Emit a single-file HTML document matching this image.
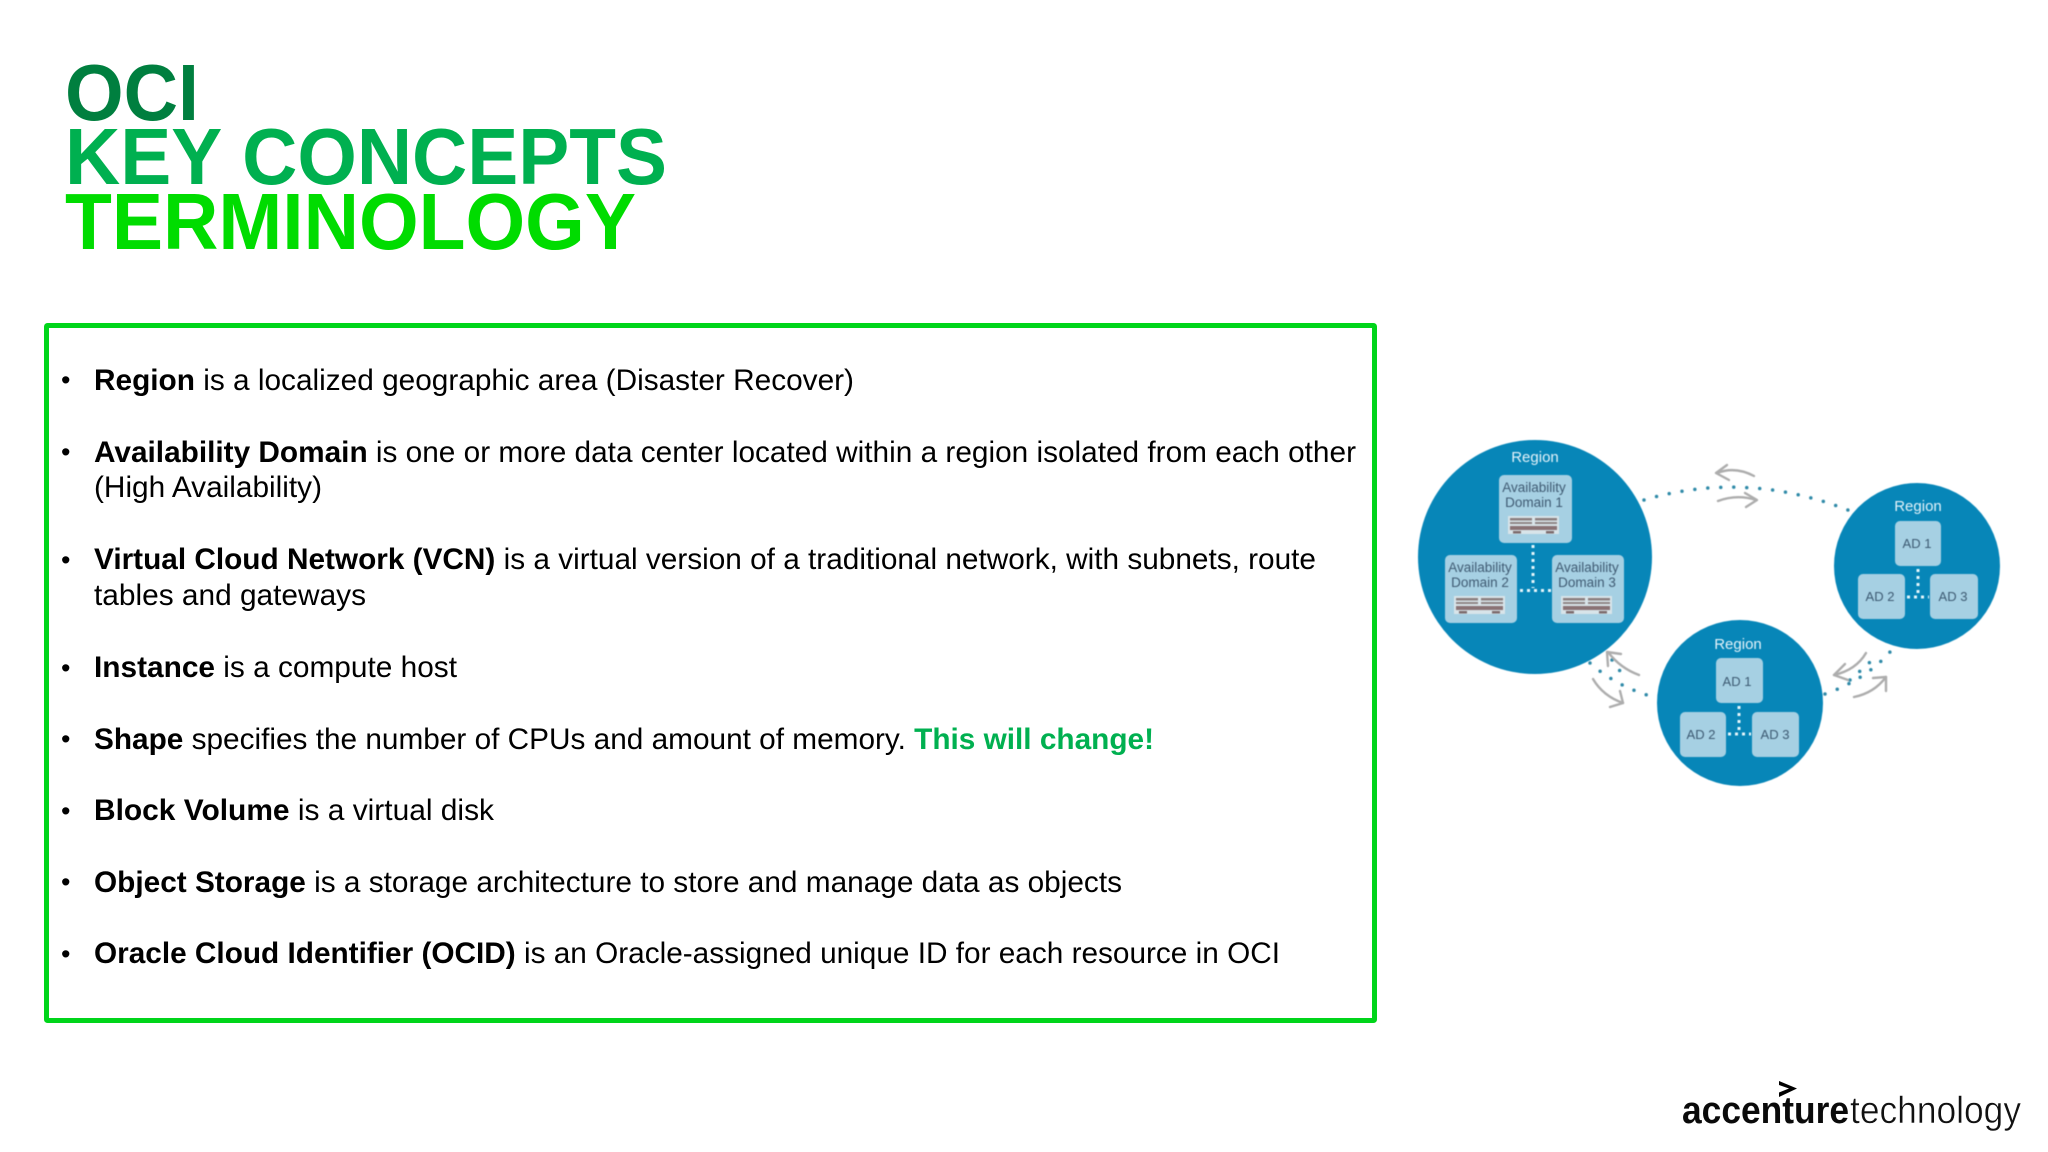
<!DOCTYPE html>
<html><head><meta charset="utf-8"><style>
html,body{margin:0;padding:0;background:#fff;width:2048px;height:1152px;overflow:hidden}
svg{display:block}
text{font-family:"Liberation Sans",sans-serif}
.b{font-weight:bold}
.t{font-size:30px;fill:#000}
.bu{font-size:27px;fill:#000}
.ad{font-size:13.5px;fill:#3f5a72;text-anchor:middle}
.r{font-size:15px;fill:#e4f3fa;text-anchor:middle}
.s{font-size:13px;fill:#3d5a72;text-anchor:middle}
.dg{filter:blur(.45px)}
</style></head><body>
<svg width="2048" height="1152" viewBox="0 0 2048 1152" xmlns="http://www.w3.org/2000/svg">
<defs>
<g id="srv">
<rect x="0" y="0" width="51" height="18" fill="#d8e4e9"/>
<rect x="2" y="2" width="22" height="2.5" fill="#8b7f80"/><rect x="27" y="2" width="22" height="2.5" fill="#8b7f80"/>
<rect x="2" y="6" width="22" height="2" fill="#8f8586"/><rect x="27" y="6" width="22" height="2" fill="#8f8586"/>
<rect x="2" y="10" width="47" height="4" fill="#8a7375"/>
<rect x="5" y="15" width="8" height="2.5" fill="#7c6a6c"/><rect x="38" y="15" width="8" height="2.5" fill="#7c6a6c"/>
</g>
</defs>
<rect width="2048" height="1152" fill="#fff"/>

<g font-weight="bold" font-size="80">
<text x="65" y="120" fill="#007f3f" textLength="134" lengthAdjust="spacingAndGlyphs">OCI</text>
<text x="65" y="184" fill="#00b050" textLength="602" lengthAdjust="spacingAndGlyphs">KEY CONCEPTS</text>
<text x="65" y="249" fill="#00dc00" textLength="571" lengthAdjust="spacingAndGlyphs">TERMINOLOGY</text>
</g>

<rect x="46.5" y="325.5" width="1328" height="695" fill="#fff" stroke="#00d51a" stroke-width="5" rx="1"/>

<g>
<text class="bu" x="61" y="389">•</text>
<text class="bu" x="61" y="461">•</text>
<text class="bu" x="61" y="569">•</text>
<text class="bu" x="61" y="677">•</text>
<text class="bu" x="61" y="748">•</text>
<text class="bu" x="61" y="820">•</text>
<text class="bu" x="61" y="891">•</text>
<text class="bu" x="61" y="963">•</text>
</g>
<text class="t" x="94" y="390" textLength="760" lengthAdjust="spacingAndGlyphs"><tspan class="b">Region</tspan> is a localized geographic area (Disaster Recover)</text>
<text class="t" x="94" y="462" textLength="1262" lengthAdjust="spacingAndGlyphs"><tspan class="b">Availability Domain</tspan> is one or more data center located within a region isolated from each other</text>
<text class="t" x="94" y="497" textLength="228" lengthAdjust="spacingAndGlyphs">(High Availability)</text>
<text class="t" x="94" y="569" textLength="1222" lengthAdjust="spacingAndGlyphs"><tspan class="b">Virtual Cloud Network (VCN)</tspan> is a virtual version of a traditional network, with subnets, route</text>
<text class="t" x="94" y="605" textLength="272" lengthAdjust="spacingAndGlyphs">tables and gateways</text>
<text class="t" x="94" y="677" textLength="363" lengthAdjust="spacingAndGlyphs"><tspan class="b">Instance</tspan> is a compute host</text>
<text class="t" x="94" y="749" textLength="1060" lengthAdjust="spacingAndGlyphs"><tspan class="b">Shape</tspan> specifies the number of CPUs and amount of memory. <tspan class="b" fill="#00b050">This will change!</tspan></text>
<text class="t" x="94" y="820" textLength="400" lengthAdjust="spacingAndGlyphs"><tspan class="b">Block Volume</tspan> is a virtual disk</text>
<text class="t" x="94" y="892" textLength="1028" lengthAdjust="spacingAndGlyphs"><tspan class="b">Object Storage</tspan> is a storage architecture to store and manage data as objects</text>
<text class="t" x="94" y="963" textLength="1186" lengthAdjust="spacingAndGlyphs"><tspan class="b">Oracle Cloud Identifier (OCID)</tspan> is an Oracle-assigned unique ID for each resource in OCI</text>

<g class="dg">
<!-- connectors between regions -->
<g fill="none" stroke="#2f8aa8" stroke-width="3.5" stroke-linecap="round" stroke-dasharray="0 13">
<path d="M1644 500 Q1745 470 1848 510"/>
<path d="M1590 663 Q1615 685 1647 695"/>
<path d="M1612 660 L1625 678"/>
<path d="M1825 694 Q1865 680 1890 652"/>
<path d="M1850 680 L1878 655"/>
</g>
<g fill="none" stroke="#adadad" stroke-width="2.4" stroke-linecap="round" stroke-linejoin="round">
<path d="M1754 476 Q1735 466 1717 473"/><path d="M1727 465 L1716 473 L1729 480"/>
<path d="M1718 501 Q1737 494 1756 500"/><path d="M1745 493 L1757 500 L1746 507"/>
<path d="M1639 675 Q1620 668 1608 652"/><path d="M1608 666 L1607 652 L1621 654"/>
<path d="M1593 679 Q1603 696 1623 703"/><path d="M1610 707 L1623 703 L1620 691"/>
<path d="M1866 653 Q1856 670 1834 675"/><path d="M1845 664 L1834 675 L1848 680"/>
<path d="M1854 697 Q1874 693 1886 677"/><path d="M1873 678 L1886 677 L1886 691"/>
</g>

<!-- big region -->
<circle cx="1535" cy="557" r="117" fill="#0786b8"/>
<text class="r" x="1535" y="462">Region</text>
<g fill="#a6d0e3">
<rect x="1499" y="475" width="73" height="68" rx="5"/>
<rect x="1445" y="555" width="72" height="68" rx="5"/>
<rect x="1552" y="555" width="72" height="68" rx="5"/>
</g>
<text class="ad" x="1534" y="492">Availability</text><text class="ad" x="1534" y="507">Domain 1</text>
<text class="ad" x="1480" y="572">Availability</text><text class="ad" x="1480" y="587">Domain 2</text>
<text class="ad" x="1587" y="572">Availability</text><text class="ad" x="1587" y="587">Domain 3</text>
<use href="#srv" x="1508" y="516"/><use href="#srv" x="1454" y="596"/><use href="#srv" x="1561" y="596"/>
<g fill="none" stroke="#e6f6fb" stroke-width="3" stroke-dasharray="3 4">
<path d="M1533 545 V588"/><path d="M1520 590.5 H1551"/>
</g>

<!-- right region -->
<circle cx="1917" cy="566" r="83" fill="#0786b8"/>
<text class="r" x="1918" y="511">Region</text>
<g fill="#a6d0e3">
<rect x="1895" y="521" width="46" height="45" rx="5"/>
<rect x="1858" y="574" width="47" height="45" rx="5"/>
<rect x="1930" y="574" width="48" height="45" rx="5"/>
</g>
<text class="s" x="1917" y="548">AD 1</text>
<text class="s" x="1880" y="601">AD 2</text>
<text class="s" x="1953" y="601">AD 3</text>
<g fill="none" stroke="#e6f6fb" stroke-width="3" stroke-dasharray="3 4">
<path d="M1918 569 V593"/><path d="M1907 597 H1929"/>
</g>

<!-- bottom region -->
<circle cx="1740" cy="703" r="83" fill="#0786b8"/>
<text class="r" x="1738" y="649">Region</text>
<g fill="#a6d0e3">
<rect x="1716" y="658" width="47" height="45" rx="5"/>
<rect x="1680" y="712" width="46" height="45" rx="5"/>
<rect x="1752" y="712" width="47" height="45" rx="5"/>
</g>
<text class="s" x="1737" y="686">AD 1</text>
<text class="s" x="1701" y="739">AD 2</text>
<text class="s" x="1775" y="739">AD 3</text>
<g fill="none" stroke="#e6f6fb" stroke-width="3" stroke-dasharray="3 4">
<path d="M1739 706 V731"/><path d="M1728 734 H1751"/>
</g>
</g>

<!-- logo -->
<text x="1682" y="1123" font-size="38" font-weight="bold" fill="#0a0a0a" textLength="167" lengthAdjust="spacingAndGlyphs">accenture</text>
<text x="1850" y="1123" font-size="38" fill="#111" stroke="#fff" stroke-width=".5" textLength="171" lengthAdjust="spacingAndGlyphs">technology</text>
<path d="M1779 1081 L1797 1088.5 L1779 1097 V1092.5 L1789 1088.5 L1779 1085 Z" fill="#000"/>
</svg>
</body></html>
